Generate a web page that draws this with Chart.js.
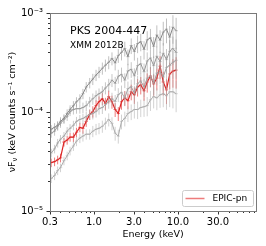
<!DOCTYPE html>
<html>
<head>
<meta charset="utf-8">
<script src="https://cdn.jsdelivr.net/npm/chart.js@4.4.0/dist/chart.umd.min.js"></script>
<style>
html, body { margin: 0; padding: 0; background: #fff; }
#wrap { width: 266px; height: 246px; }
</style>
</head>
<body>
<div id="wrap"><canvas id="c" width="266" height="246"></canvas></div>
<script>
// bin centres (keV), shared by all spectra
var energy = [0.31, 0.34, 0.37, 0.40, 0.44, 0.48, 0.52, 0.57, 0.62, 0.68,
              0.74, 0.81, 0.89, 0.97, 1.06, 1.15, 1.26, 1.37, 1.50, 1.64,
              1.79, 1.95, 2.13, 2.33, 2.54, 2.78, 3.03, 3.31, 3.61, 3.95,
              4.31, 4.71, 5.14, 5.61, 6.13, 6.69, 7.31, 7.98, 8.72, 9.52];

// fractional 1-sigma error per bin
var relErr = [0.10, 0.10, 0.10, 0.10, 0.10, 0.10, 0.10, 0.11, 0.11, 0.11,
              0.12, 0.12, 0.12, 0.13, 0.13, 0.13, 0.14, 0.14, 0.15, 0.15,
              0.16, 0.16, 0.17, 0.17, 0.18, 0.18, 0.19, 0.20, 0.20, 0.21,
              0.22, 0.23, 0.24, 0.25, 0.26, 0.27, 0.28, 0.30, 0.32, 0.35];

// other epochs (grey)
var fluxG1 = [6.70e-5, 7.01e-5, 7.34e-5, 8.04e-5, 8.61e-5, 9.66e-5, 1.06e-4, 1.16e-4, 1.27e-4, 1.36e-4,
              1.53e-4, 1.79e-4, 1.97e-4, 2.15e-4, 2.36e-4, 2.53e-4, 2.77e-4, 2.97e-4, 3.18e-4, 3.48e-4,
              3.13e-4, 3.73e-4, 4.00e-4, 4.38e-4, 3.62e-4, 4.69e-4, 4.08e-4, 4.91e-4, 5.13e-4, 4.29e-4,
              5.36e-4, 5.61e-4, 4.61e-4, 6.00e-4, 5.31e-4, 6.42e-4, 6.87e-4, 5.70e-4, 7.19e-4, 6.62e-4];
var fluxG2 = [6.11e-5, 6.40e-5, 7.17e-5, 7.69e-5, 8.41e-5, 9.02e-5, 1.01e-4, 1.06e-4, 1.08e-4, 1.08e-4,
              1.11e-4, 1.16e-4, 1.27e-4, 1.36e-4, 1.46e-4, 1.53e-4, 1.60e-4, 1.75e-4, 1.88e-4, 2.10e-4,
              1.95e-4, 2.30e-4, 2.40e-4, 2.10e-4, 2.60e-4, 2.70e-4, 2.32e-4, 2.94e-4, 3.07e-4, 2.55e-4,
              3.28e-4, 3.51e-4, 2.94e-4, 3.66e-4, 3.23e-4, 3.92e-4, 3.38e-4, 4.10e-4, 4.38e-4, 4.00e-4];
var fluxG3 = [3.86e-5, 4.24e-5, 4.86e-5, 5.32e-5, 5.71e-5, 6.40e-5, 6.85e-5, 7.34e-5, 8.04e-5, 8.41e-5,
              8.61e-5, 9.02e-5, 9.44e-5, 9.66e-5, 1.01e-4, 1.08e-4, 1.11e-4, 1.19e-4, 1.27e-4, 1.36e-4,
              1.28e-4, 1.50e-4, 1.58e-4, 1.38e-4, 1.72e-4, 1.80e-4, 1.55e-4, 1.93e-4, 2.06e-4, 1.79e-4,
              2.20e-4, 2.31e-4, 1.96e-4, 2.47e-4, 2.58e-4, 2.26e-4, 2.82e-4, 2.95e-4, 3.18e-4, 3.33e-4];
var fluxG4 = [2.13e-5, 2.28e-5, 2.56e-5, 2.74e-5, 3.22e-5, 3.61e-5, 4.05e-5, 4.54e-5, 5.08e-5, 5.45e-5,
              5.71e-5, 5.97e-5, 5.97e-5, 6.40e-5, 6.70e-5, 6.85e-5, 7.17e-5, 7.69e-5, 8.41e-5, 7.69e-5,
              6.11e-5, 5.71e-5, 8.04e-5, 8.61e-5, 9.66e-5, 1.01e-4, 1.06e-4, 1.06e-4, 1.11e-4, 1.13e-4,
              1.16e-4, 1.33e-4, 1.43e-4, 1.39e-4, 1.49e-4, 1.53e-4, 1.46e-4, 1.60e-4, 1.60e-4, 1.53e-4];
// XMM 2012B, EPIC-pn
var fluxPN = [3.08e-5, 3.15e-5, 3.29e-5, 3.44e-5, 4.97e-5, 5.20e-5, 5.57e-5, 5.57e-5, 6.25e-5, 7.00e-5,
              6.85e-5, 8.04e-5, 9.44e-5, 1.01e-4, 1.16e-4, 1.27e-4, 1.36e-4, 1.22e-4, 1.43e-4, 1.27e-4,
              1.06e-4, 9.66e-5, 1.27e-4, 1.39e-4, 1.30e-4, 1.60e-4, 1.49e-4, 1.79e-4, 1.88e-4, 1.64e-4,
              2.01e-4, 2.31e-4, 1.92e-4, 2.20e-4, 2.90e-4, 2.01e-4, 1.67e-4, 2.42e-4, 2.59e-4, 2.65e-4];

var xMajor = [0.3, 1, 3, 10, 30];
var xMajorLabels = ["0.3", "1.0", "3.0", "10.0", "30.0"];
var xMinor = [0.4, 0.5, 0.6, 0.7, 0.8, 0.9, 2, 4, 5, 6, 7, 8, 9, 20, 40, 50, 60, 70, 80];
var yMajor = [1e-5, 1e-4, 1e-3];
var yMajorLabels = ["10\u207B\u2075", "10\u207B\u2074", "10\u207B\u00B3"];
var yMinor = [2e-5, 3e-5, 4e-5, 5e-5, 6e-5, 7e-5, 8e-5, 9e-5,
              2e-4, 3e-4, 4e-4, 5e-4, 6e-4, 7e-4, 8e-4, 9e-4];

var FONT = "'DejaVu Sans', sans-serif";

function pts(flux) {
  return energy.map(function (e, i) { return { x: e, y: flux[i] }; });
}

function mkSet(label, flux, line, err, width) {
  return {
    label: label,
    data: pts(flux),
    flux: flux,
    errColor: err,
    borderColor: line,
    borderWidth: width,
    pointRadius: 0,
    tension: 0,
    fill: false
  };
}

// error crosses, drawn just under each spectrum's line
var errorBars = {
  id: 'errorBars',
  beforeDatasetDraw: function (chart, args) {
    var ds = chart.data.datasets[args.index];
    var xs = chart.scales.x, ys = chart.scales.y, ctx = chart.ctx, a = chart.chartArea;
    var n = energy.length;
    ctx.save();
    ctx.beginPath();
    ctx.rect(a.left, a.top, a.right - a.left, a.bottom - a.top);
    ctx.clip();
    ctx.strokeStyle = ds.errColor;
    ctx.lineWidth = 1;
    for (var i = 0; i < n; i++) {
      var e = energy[i], f = ds.flux[i];
      var lo = i > 0 ? Math.sqrt(energy[i - 1] * e) : e * e / Math.sqrt(e * energy[1]);
      var hi = i < n - 1 ? Math.sqrt(energy[i + 1] * e) : e * e / Math.sqrt(e * energy[n - 2]);
      var px = xs.getPixelForValue(e), py = ys.getPixelForValue(f);
      ctx.beginPath();
      ctx.moveTo(px, ys.getPixelForValue(f * (1 - relErr[i])));
      ctx.lineTo(px, ys.getPixelForValue(f * (1 + relErr[i])));
      ctx.moveTo(xs.getPixelForValue(lo), py);
      ctx.lineTo(xs.getPixelForValue(hi), py);
      ctx.stroke();
    }
    ctx.restore();
  }
};

// frame, tick marks, labels, legend
var decor = {
  id: 'decor',
  afterDraw: function (chart) {
    var ctx = chart.ctx, a = chart.chartArea, xs = chart.scales.x, ys = chart.scales.y;
    ctx.save();
    ctx.strokeStyle = '#000';
    ctx.lineWidth = 0.8;
    ctx.beginPath();
    xMajor.forEach(function (v) { var p = Math.round(xs.getPixelForValue(v)) + 0.5; ctx.moveTo(p, a.bottom); ctx.lineTo(p, a.bottom + 3.5); });
    xMinor.forEach(function (v) { var p = Math.round(xs.getPixelForValue(v)) + 0.5; ctx.moveTo(p, a.bottom); ctx.lineTo(p, a.bottom + 2); });
    yMajor.forEach(function (v) { var p = Math.round(ys.getPixelForValue(v)) + 0.5; ctx.moveTo(a.left, p); ctx.lineTo(a.left - 3.5, p); });
    yMinor.forEach(function (v) { var p = Math.round(ys.getPixelForValue(v)) + 0.5; ctx.moveTo(a.left, p); ctx.lineTo(a.left - 2, p); });
    ctx.stroke();

    ctx.strokeStyle = '#7a7a7a';
    ctx.lineWidth = 1;
    ctx.strokeRect(Math.round(a.left) + 0.5, Math.round(a.top) + 0.5, Math.round(a.right - a.left), Math.round(a.bottom - a.top));

    ctx.fillStyle = '#000';
    ctx.textBaseline = 'middle';
    ctx.textAlign = 'left';
    ctx.font = '11px ' + FONT;
    ctx.fillText('PKS 2004-447', a.left + 20, a.top + 18);
    ctx.font = '9px ' + FONT;
    ctx.fillText('XMM 2012B', a.left + 20, a.top + 33);

    ctx.textAlign = 'center';
    ctx.font = '9.5px ' + FONT;
    ctx.fillText('Energy (keV)', (a.left + a.right) / 2, 235);

    // y title with subscript nu
    ctx.save();
    ctx.translate(13, (a.top + a.bottom) / 2);
    ctx.rotate(-Math.PI / 2);
    ctx.textAlign = 'left';
    var big = '9.5px ' + FONT, small = '7px ' + FONT;
    var p1 = '\u03BDF', p2 = '\u03BD', p3 = ' (keV counts s\u207B\u00B9 cm\u207B\u00B2)';
    ctx.font = big; var w1 = ctx.measureText(p1).width, w3 = ctx.measureText(p3).width;
    ctx.font = small; var w2 = ctx.measureText(p2).width;
    var x0 = -(w1 + w2 + w3) / 2;
    ctx.font = big; ctx.fillText(p1, x0, 0);
    ctx.font = small; ctx.fillText(p2, x0 + w1, 2.5);
    ctx.font = big; ctx.fillText(p3, x0 + w1 + w2, 0);
    ctx.restore();

    // legend
    var lx = 182.5, ly = 190.5, lw = 71, lh = 16;
    ctx.fillStyle = 'rgba(255,255,255,0.8)';
    ctx.strokeStyle = '#cccccc';
    ctx.lineWidth = 1;
    ctx.beginPath();
    ctx.roundRect(lx, ly, lw, lh, 2);
    ctx.fill();
    ctx.stroke();
    var pn = chart.data.datasets[chart.data.datasets.length - 1];
    ctx.strokeStyle = pn.errColor;
    ctx.lineWidth = 1.5;
    ctx.beginPath();
    ctx.moveTo(lx + 3, ly + lh / 2);
    ctx.lineTo(lx + 22, ly + lh / 2);
    ctx.stroke();
    ctx.fillStyle = '#000';
    ctx.textAlign = 'left';
    ctx.font = '9px ' + FONT;
    ctx.fillText(pn.label, lx + 30, ly + lh / 2);
    ctx.restore();
  }
};

new Chart(document.getElementById('c'), {
  type: 'line',
  data: {
    datasets: [
      mkSet('G1', fluxG1, '#858585', 'rgba(150,150,150,0.6)', 1),
      mkSet('G2', fluxG2, '#959595', 'rgba(160,160,160,0.6)', 1),
      mkSet('G3', fluxG3, '#a0a0a0', 'rgba(170,170,170,0.6)', 1),
      mkSet('G4', fluxG4, '#aaaaaa', 'rgba(180,180,180,0.6)', 1),
      mkSet('EPIC-pn', fluxPN, '#dc2424', 'rgba(236,110,110,0.9)', 1.2)
    ]
  },
  options: {
    responsive: false,
    animation: false,
    devicePixelRatio: 1,
    layout: { padding: { top: 10, right: 10, left: 0, bottom: 0 } },
    plugins: { legend: { display: false }, tooltip: { enabled: false } },
    scales: {
      x: {
        type: 'logarithmic', min: 0.3, max: 85,
        grid: { display: false, drawTicks: false }, border: { display: false },
        afterBuildTicks: function (s) { s.ticks = xMajor.map(function (v) { return { value: v }; }); },
        afterFit: function (s) { s.height = 35; },
        ticks: {
          autoSkip: false, maxRotation: 0, padding: 5, color: '#000',
          font: { family: FONT, size: 10 },
          callback: function (v) { var k = xMajor.indexOf(v); return k < 0 ? '' : xMajorLabels[k]; }
        }
      },
      y: {
        type: 'logarithmic', min: 1e-5, max: 1e-3,
        grid: { display: false, drawTicks: false }, border: { display: false },
        afterBuildTicks: function (s) { s.ticks = yMajor.map(function (v) { return { value: v }; }); },
        afterFit: function (s) { s.width = 50; },
        ticks: {
          autoSkip: false, padding: 7, color: '#000',
          font: { family: FONT, size: 10 },
          callback: function (v) { var k = yMajor.indexOf(v); return k < 0 ? '' : yMajorLabels[k]; }
        }
      }
    }
  },
  plugins: [errorBars, decor]
});
</script>
</body>
</html>
